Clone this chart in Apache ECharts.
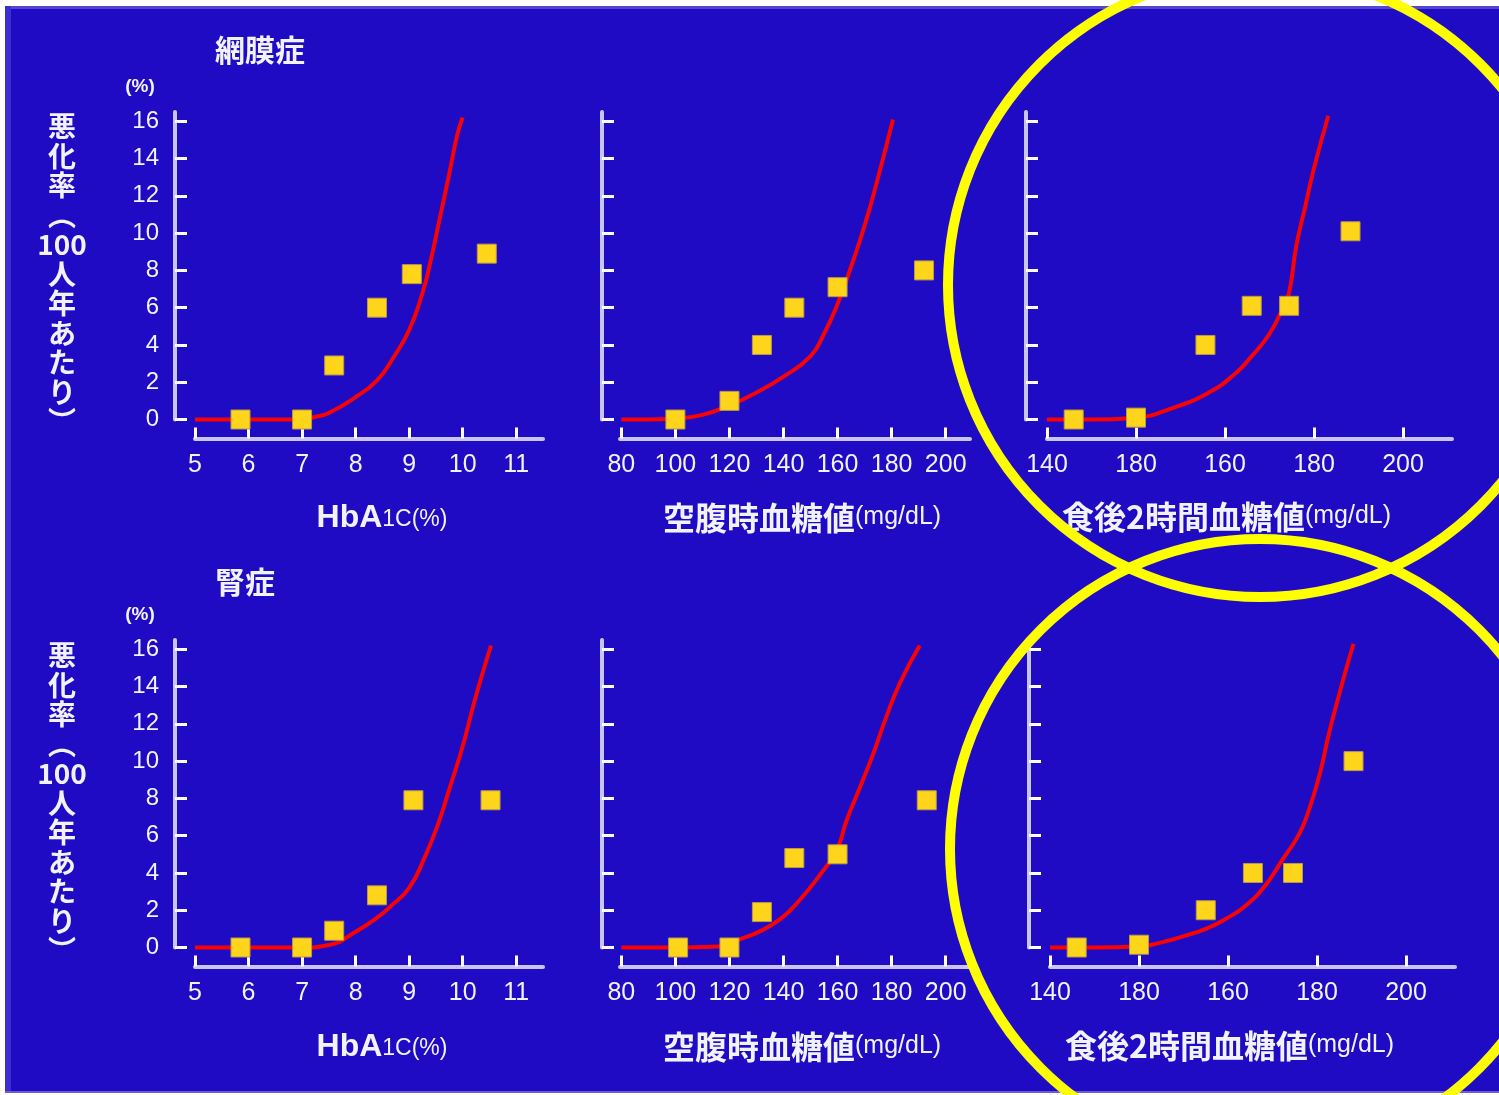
<!DOCTYPE html>
<html>
<head>
<meta charset="utf-8">
<script src="https://cdn.jsdelivr.net/npm/echarts@6/dist/echarts.min.js"></script>
<style>
  html, body { margin: 0; padding: 0; background: #ffffff; }
  #chart { width: 1499px; height: 1095px; }
</style>
</head>
<body>
<div id="chart"></div>
<script>
(function() {

// 目盛り
var yTicks = [0, 2, 4, 6, 8, 10, 12, 14, 16];
var hba1cTicks = [5, 6, 7, 8, 9, 10, 11];
var fpgTicks = [80, 100, 120, 140, 160, 180, 200];
var ppgTickPos = [0, 1, 2, 3, 4];
var ppgTickLabels = ['140', '180', '160', '180', '200'];

// 網膜症 - HbA1c
var retHbX = [5.85, 7.0, 7.6, 8.4, 9.05, 10.45];
var retHbY = [0, 0, 2.9, 6.0, 7.8, 8.9];
var retHbCurveX = [5.0, 6.0, 7.0, 7.25, 7.5, 8.0, 8.4, 8.7, 9.0, 9.25, 9.4, 9.55, 9.75, 9.9, 10.0];
var retHbCurveY = [0, 0, 0, 0.15, 0.35, 1.2, 2.1, 3.3, 4.8, 6.8, 8.5, 10.5, 13.2, 15.3, 16.2];

// 網膜症 - 空腹時血糖値
var retFpgX = [100, 120, 132, 144, 160, 192];
var retFpgY = [0, 1.0, 4.0, 6.0, 7.1, 8.0];
var retFpgCurveX = [80, 90, 100, 110, 120, 130, 140, 150, 155, 160, 165, 170, 175, 180.5];
var retFpgCurveY = [0, 0, 0.05, 0.25, 0.75, 1.45, 2.3, 3.4, 4.6, 6.2, 8.2, 10.4, 13.0, 16.1];

// 網膜症 - 食後2時間血糖値 (目盛り位置の単位)
var retPpgX = [0.3, 1.0, 1.78, 2.3, 2.72, 3.41];
var retPpgY = [0, 0.1, 4.0, 6.1, 6.1, 10.1];
var retPpgCurveX = [0, 0.5, 1.0, 1.4, 1.8, 2.1, 2.3, 2.5, 2.65, 2.72, 2.8, 2.9, 3.0, 3.16];
var retPpgCurveY = [0, 0, 0.1, 0.6, 1.4, 2.4, 3.4, 4.6, 6.0, 6.8, 9.3, 11.4, 13.5, 16.3];

// 腎症 - HbA1c
var nepHbX = [5.85, 7.0, 7.6, 8.4, 9.08, 10.52];
var nepHbY = [0, 0, 0.9, 2.8, 7.9, 7.9];
var nepHbCurveX = [5.0, 6.0, 7.0, 7.5, 8.0, 8.4, 8.65, 9.0, 9.3, 9.55, 9.75, 10.0, 10.2, 10.4, 10.53];
var nepHbCurveY = [0, 0, 0, 0.13, 0.85, 1.6, 2.2, 3.2, 4.9, 6.7, 8.5, 10.8, 13.0, 15.0, 16.2];

// 腎症 - 空腹時血糖値
var nepFpgX = [101, 120, 132, 144, 160, 193];
var nepFpgY = [0, 0, 1.9, 4.8, 5.0, 7.9];
var nepFpgCurveX = [80, 100, 116, 124, 131, 139, 146, 153.5, 159.6, 163.3, 168.3, 173.2, 178.1, 183.1, 190.4];
var nepFpgCurveY = [0, 0, 0.05, 0.45, 0.85, 1.55, 2.55, 3.9, 5.2, 6.8, 8.6, 10.4, 12.4, 14.2, 16.2];

// 腎症 - 食後2時間血糖値
var nepPpgX = [0.3, 1.0, 1.75, 2.28, 2.73, 3.41];
var nepPpgY = [0, 0.15, 2.0, 4.0, 4.0, 10.0];
var nepPpgCurveX = [0, 0.5, 1.0, 1.23, 1.53, 1.75, 1.98, 2.2, 2.43, 2.61, 2.8, 2.91, 3.03, 3.14, 3.25, 3.33, 3.41];
var nepPpgCurveY = [0, 0, 0.05, 0.25, 0.65, 1.0, 1.55, 2.25, 3.4, 4.7, 6.1, 7.4, 9.3, 11.6, 13.6, 15.0, 16.3];

var BG = '#1e0bc3';
var AXIS = '#c9c5f3';
var TXT = '#f2f2ff';
var FONT = '"Liberation Sans", "Noto Sans CJK JP", sans-serif';
var CJK = '"Noto Sans CJK JP", sans-serif';

function zip(a, b) {
    return a.map(function(v, i) { return [v, b[i]]; });
}

var grids = [], xAxes = [], yAxes = [], series = [];

function panel(p) {
    var i = grids.length;
    grids.push({ left: p.left, top: p.top, width: p.width, height: 307.5 });
    xAxes.push({
        type: 'value', gridIndex: i, min: p.xMin, max: p.xMax,
        position: 'bottom', offset: 19,
        axisLine: { show: true, onZero: false, lineStyle: { color: AXIS, width: 4 } },
        axisTick: { show: true, inside: true, length: 11, customValues: p.ticks,
                    lineStyle: { color: '#ffffff', width: 3 } },
        axisLabel: { customValues: p.ticks, formatter: p.fmt, color: TXT,
                     fontSize: 25, fontFamily: FONT, margin: 14 },
        splitLine: { show: false }
    });
    yAxes.push({
        type: 'value', gridIndex: i, min: 0, max: 16.5,
        position: 'left', offset: p.yOffset,
        axisLine: { show: true, onZero: false, lineStyle: { color: AXIS, width: 4 } },
        axisTick: { show: true, inside: true, length: 12, customValues: yTicks,
                    lineStyle: { color: '#ffffff', width: 3 } },
        axisLabel: { show: p.yLabels, customValues: yTicks, color: TXT,
                     fontSize: 24, fontFamily: FONT, margin: 16 },
        splitLine: { show: false }
    });
    series.push({
        type: 'line', xAxisIndex: i, yAxisIndex: i,
        data: zip(p.cx, p.cy), showSymbol: false, smooth: 0.5, clip: false,
        lineStyle: { color: '#ff0000', width: 4 }, z: 3, silent: true
    });
    series.push({
        type: 'scatter', xAxisIndex: i, yAxisIndex: i,
        data: zip(p.x, p.y), symbol: 'rect', symbolSize: 19, clip: false,
        itemStyle: { color: '#ffd51c', opacity: 1, borderColor: '#b89a46', borderWidth: 1 }, z: 4
    });
}

var ppgFmt = function(v) { return ppgTickLabels[Math.round(v)]; };

[112, 640].forEach(function(top, row) {
    var r = row === 0;
    panel({ left: 195, width: 348, top: top, xMin: 5, xMax: 11.5, ticks: hba1cTicks,
            fmt: null, yOffset: 20, yLabels: true,
            x: r ? retHbX : nepHbX, y: r ? retHbY : nepHbY,
            cx: r ? retHbCurveX : nepHbCurveX, cy: r ? retHbCurveY : nepHbCurveY });
    panel({ left: 620, width: 350, top: top, xMin: 79.5, xMax: 209, ticks: fpgTicks,
            fmt: null, yOffset: 18, yLabels: false,
            x: r ? retFpgX : nepFpgX, y: r ? retFpgY : nepFpgY,
            cx: r ? retFpgCurveX : nepFpgCurveX, cy: r ? retFpgCurveY : nepFpgCurveY });
    panel({ left: r ? 1047 : 1050, width: 405, top: top, xMin: 0, xMax: 4.55, ticks: ppgTickPos,
            fmt: ppgFmt, yOffset: 21, yLabels: false,
            x: r ? retPpgX : nepPpgX, y: r ? retPpgY : nepPpgY,
            cx: r ? retPpgCurveX : nepPpgCurveX, cy: r ? retPpgCurveY : nepPpgCurveY });
});

// 文字と枠
var graphic = [
    { type: 'rect', z: -10, shape: { x: 5, y: 6, width: 1494, height: 1087 }, style: { fill: BG } },
    { type: 'rect', z: -9, shape: { x: 5, y: 6, width: 1494, height: 3 }, style: { fill: '#5546d2' } },
    { type: 'rect', z: -9, shape: { x: 5, y: 6, width: 6, height: 1087 }, style: { fill: '#3b2dcf' } },
    { type: 'rect', z: -9, shape: { x: 5, y: 1091, width: 1494, height: 2 }, style: { fill: '#6a5ed8' } }
];

var yName = '悪\n化\n率\n︵\n100\n人\n年\nあ\nた\nり\n︶';
var cjkRich = {
    a: { fontSize: 32, fontFamily: CJK, fontWeight: 'bold', fill: TXT, verticalAlign: 'bottom' },
    b: { fontSize: 25, fontFamily: FONT, fill: TXT, verticalAlign: 'bottom', padding: [0, 0, 4, 0] }
};
var hbRich = {
    a: { fontSize: 32, fontFamily: FONT, fontWeight: 'bold', fill: TXT, verticalAlign: 'bottom' },
    b: { fontSize: 23, fontFamily: FONT, fill: TXT, verticalAlign: 'bottom', padding: [0, 0, 3, 0] }
};

[[50, 87, 112, 518, 517, 1062, '網膜症'], [582, 615, 641, 1047, 1046, 1065, '腎症']].forEach(function(r) {
    graphic.push({ type: 'text', x: 215, y: r[0], z: 10,
        style: { text: r[6], fontSize: 30, fontWeight: 'bold', fontFamily: CJK, fill: TXT, verticalAlign: 'middle' } });
    graphic.push({ type: 'text', x: 140, y: r[1], z: 10,
        style: { text: '(%)', fontSize: 19, fontWeight: 'bold', fontFamily: FONT, fill: TXT, align: 'center', verticalAlign: 'middle' } });
    graphic.push({ type: 'text', x: 62, y: r[2], z: 10,
        style: { text: yName, fontSize: 28, lineHeight: 29.5, fontWeight: 'bold', fontFamily: CJK,
                 fill: TXT, align: 'center', verticalAlign: 'top' } });
    graphic.push({ type: 'text', x: 382, y: r[3], z: 10,
        style: { text: '{a|HbA}{b|1C(%)}', rich: hbRich, align: 'center', verticalAlign: 'middle' } });
    graphic.push({ type: 'text', x: 663, y: r[3], z: 10,
        style: { text: '{a|空腹時血糖値}{b|(mg/dL)}', rich: cjkRich, align: 'left', verticalAlign: 'middle' } });
    graphic.push({ type: 'text', x: r[5], y: r[4], z: 10,
        style: { text: '{a|食後2時間血糖値}{b|(mg/dL)}', rich: cjkRich, align: 'left', verticalAlign: 'middle' } });
});

// 黄色の丸
graphic.push({ type: 'circle', z: 100, shape: { cx: 1260, cy: 285, r: 312 },
               style: { fill: 'none', stroke: '#ffff00', lineWidth: 10 } });
graphic.push({ type: 'circle', z: 100, shape: { cx: 1260, cy: 849, r: 310 },
               style: { fill: 'none', stroke: '#ffff00', lineWidth: 10 } });

var myChart = echarts.init(document.getElementById('chart'));
myChart.setOption({
    animation: false,
    backgroundColor: '#ffffff',
    grid: grids,
    xAxis: xAxes,
    yAxis: yAxes,
    series: series,
    graphic: graphic
});

})();
</script>
</body>
</html>
